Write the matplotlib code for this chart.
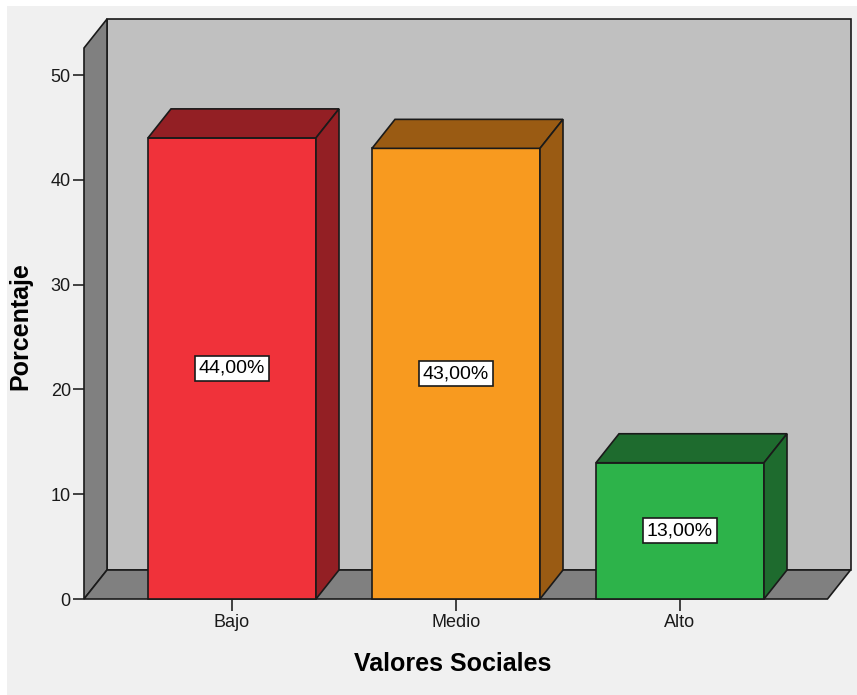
import matplotlib
matplotlib.use("Agg")
import matplotlib.pyplot as plt
from matplotlib.patches import Polygon, Rectangle

categories = ["Bajo", "Medio", "Alto"]
values = [44.0, 43.0, 13.0]
labels = ["44,00%", "43,00%", "13,00%"]
front_colors = ["#F0323A", "#F89A1F", "#2DB34A"]
dark_colors = ["#931F24", "#9A5B13", "#1E6B2E"]
yticks = [0, 10, 20, 30, 40, 50]

W, H = 857, 695
fig = plt.figure(figsize=(W / 100, H / 100), dpi=100, facecolor="white")
fig.patches.append(Rectangle((7 / W, 0), 1 - 7 / W, 1 - 6 / H, transform=fig.transFigure,
                             facecolor="#F0F0F0", edgecolor="none", zorder=-10))

# pixel geometry of the plotting box
px_left, px_right, px_top, px_bottom = 84, 850, 19, 599
px_per_unit_x = 224.0
px_per_unit_y = 10.48
dxp, dyp = 23, 29

x0 = -148 / px_per_unit_x
x1 = 2 + 147.5 / px_per_unit_x
dx = dxp / px_per_unit_x
dy = dyp / px_per_unit_y
ymax = (px_bottom - px_top - dyp) / px_per_unit_y
half = 84 / px_per_unit_x

ax = fig.add_axes([px_left / W, 1 - px_bottom / H,
                   (px_right - px_left) / W, (px_bottom - px_top) / H])
ax.set_xlim(x0, x0 + (px_right - px_left) / px_per_unit_x)
ax.set_ylim(0, (px_bottom - px_top) / px_per_unit_y)
ax.patch.set_visible(False)
for s in ax.spines.values():
    s.set_visible(False)

ec = "#1A1A1A"
lw = 1.2
wall = "#C0C0C0"
side = "#808080"

def poly(pts, fc, z):
    ax.add_patch(Polygon(pts, closed=True, facecolor=fc, edgecolor=ec,
                         linewidth=lw, zorder=z, clip_on=False, joinstyle="miter"))

# back wall
poly([(x0 + dx, dy), (x1 + dx, dy), (x1 + dx, ymax + dy), (x0 + dx, ymax + dy)], wall, 1)
# left wall
poly([(x0, 0), (x0 + dx, dy), (x0 + dx, ymax + dy), (x0, ymax)], side, 2)
# floor
poly([(x0, 0), (x1, 0), (x1 + dx, dy), (x0 + dx, dy)], side, 2)

for i, (v, fc, dc, lab) in enumerate(zip(values, front_colors, dark_colors, labels)):
    l, r = i - half, i + half
    poly([(l, 0), (r, 0), (r, v), (l, v)], fc, 3)
    poly([(l, v), (r, v), (r + dx, v + dy), (l + dx, v + dy)], dc, 3)
    poly([(r, 0), (r + dx, dy), (r + dx, v + dy), (r, v)], dc, 3)
    ax.text(i, v / 2, lab, ha="center", va="center", fontsize=14,
            family="Liberation Sans", color="black", zorder=5,
            bbox=dict(boxstyle="square,pad=0.2", facecolor="white",
                      edgecolor=ec, linewidth=1.2))

ax.set_xticks(range(len(categories)))
ax.set_xticklabels(categories, fontsize=13, family="Liberation Sans", color="#1A1A1A")
ax.set_yticks(yticks)
ax.set_yticklabels([str(t) for t in yticks], fontsize=13, family="Liberation Sans", color="#1A1A1A")
ax.tick_params(axis="x", length=8.5, width=1.3, color="#333333", pad=2)
ax.tick_params(axis="y", length=8, width=1.3, color="#333333", pad=1.5)

fig.text(453 / W, 1 - 664 / H, "Valores Sociales", ha="center", va="center",
         fontsize=18, fontweight="bold", family="Liberation Sans")
fig.text(20 / W, 1 - 326 / H, "Porcentaje", ha="center", va="center",
         fontsize=18, fontweight="bold", family="Liberation Sans", rotation=90)

fig.savefig("out.png", dpi=100, facecolor="white")
